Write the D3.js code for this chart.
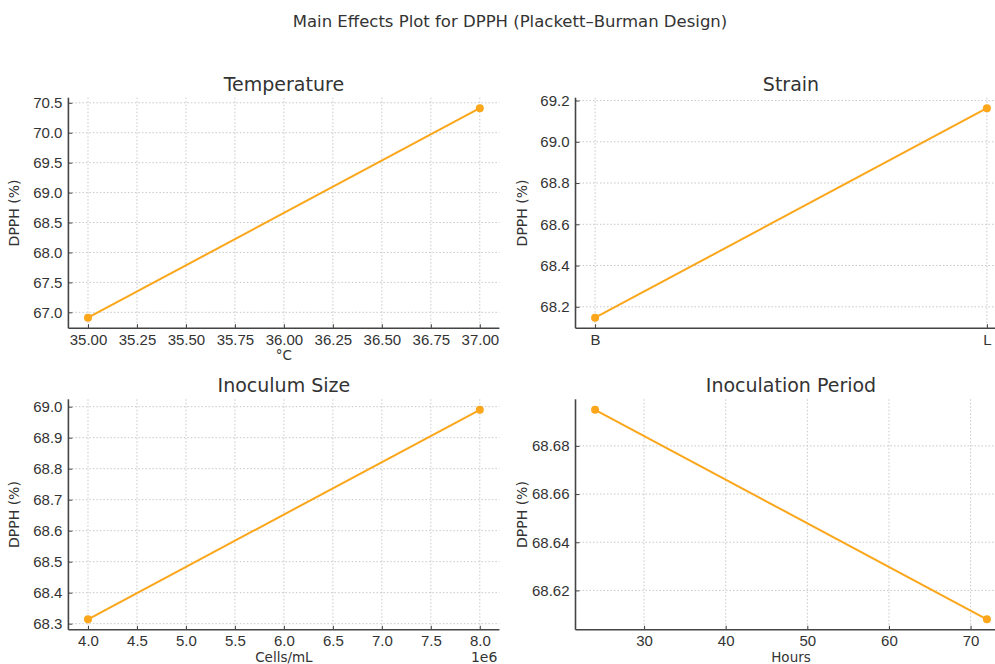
<!DOCTYPE html>
<html>
<head>
<meta charset="utf-8">
<script src="https://cdn.jsdelivr.net/npm/d3@7"></script>
<style>
  body { margin: 0; background: #fff; }
  svg { font-family: "DejaVu Sans", sans-serif; display: block; }
  .grid line { stroke: #c8c8c8; stroke-dasharray: 1.5 2; stroke-width: 1; }
  .axis path { stroke: #444; stroke-width: 1.6; }
  .axis line { stroke: #444; stroke-width: 1; }
  .axis text { fill: #333; font-size: 15px; }
</style>
</head>
<body>
<div id="wrapper"></div>
<script>
// 1. Data
const chartTitle = "Main Effects Plot for DPPH (Plackett–Burman Design)"

const temperatureLevels = [35, 37]
const temperatureDpph = [66.91, 70.41]
const temperatureTicks = [35, 35.25, 35.5, 35.75, 36, 36.25, 36.5, 36.75, 37]
const temperatureYTicks = [67.0, 67.5, 68.0, 68.5, 69.0, 69.5, 70.0, 70.5]

const strainLevels = ["B", "L"]
const strainDpph = [68.147, 69.163]
const strainYTicks = [68.2, 68.4, 68.6, 68.8, 69.0, 69.2]

const inoculumLevels = [4e6, 8e6]
const inoculumDpph = [68.314, 68.990]
const inoculumTicks = [4e6, 4.5e6, 5e6, 5.5e6, 6e6, 6.5e6, 7e6, 7.5e6, 8e6]
const inoculumYTicks = [68.3, 68.4, 68.5, 68.6, 68.7, 68.8, 68.9, 69.0]

const periodLevels = [24, 72]
const periodDpph = [68.695, 68.608]
const periodTicks = [30, 40, 50, 60, 70]
const periodYTicks = [68.62, 68.64, 68.66, 68.68]

// 2. Dimensions
const width = 995
const height = 664
const panelW = 431
const panelH = 230.5

const panels = [
  { title: "Temperature", xLabel: "°C", x: temperatureLevels, y: temperatureDpph,
    xTicks: temperatureTicks, yTicks: temperatureYTicks, xFmt: d3.format(".2f"), yFmt: d3.format(".1f"),
    left: 68.4, top: 97.7 },
  { title: "Strain", xLabel: "", x: strainLevels, y: strainDpph, categorical: true,
    yTicks: strainYTicks, yFmt: d3.format(".1f"),
    left: 575.5, top: 97.7 },
  { title: "Inoculum Size", xLabel: "Cells/mL", x: inoculumLevels, y: inoculumDpph,
    xTicks: inoculumTicks, yTicks: inoculumYTicks, xFmt: d => d3.format(".1f")(d / 1e6), yFmt: d3.format(".1f"),
    offsetText: "1e6", left: 68.4, top: 399.3 },
  { title: "Inoculation Period", xLabel: "Hours", x: periodLevels, y: periodDpph,
    xTicks: periodTicks, yTicks: periodYTicks, xFmt: d3.format("d"), yFmt: d3.format(".2f"),
    left: 575.5, top: 399.3 },
]

// 3. Canvas
const wrapper = d3.select("#wrapper")
  .append("svg")
    .attr("width", width)
    .attr("height", height)

wrapper.append("text")
    .attr("x", 510)
    .attr("y", 27)
    .attr("text-anchor", "middle")
    .style("font-size", "16.5px")
    .style("fill", "#333")
    .text(chartTitle)

const padded = ([a, b]) => {
  const m = (b - a) * 0.05
  return [a - m, b + m]
}

panels.forEach(p => {
  const bounds = wrapper.append("g")
      .attr("transform", `translate(${p.left}, ${p.top})`)

  // 4. Scales
  const idx = p.x.map((d, i) => i)
  const xScale = p.categorical
    ? d3.scaleLinear().domain(padded([0, p.x.length - 1])).range([0, panelW])
    : d3.scaleLinear().domain(padded(d3.extent(p.x))).range([0, panelW])
  const xPos = (d, i) => p.categorical ? xScale(i) : xScale(d)
  const xTickVals = p.categorical ? idx : p.xTicks
  const xTickFmt = p.categorical ? (i => p.x[i]) : p.xFmt

  const yScale = d3.scaleLinear()
    .domain(padded(d3.extent(p.y)))
    .range([panelH, 0])

  // grid
  const grid = bounds.append("g").attr("class", "grid")
  grid.selectAll(".gx")
    .data(xTickVals)
    .join("line")
      .attr("x1", d => xScale(d))
      .attr("x2", d => xScale(d))
      .attr("y1", 0)
      .attr("y2", panelH)
  grid.selectAll(".gy")
    .data(p.yTicks)
    .join("line")
      .attr("class", "gy")
      .attr("x1", 0)
      .attr("x2", panelW)
      .attr("y1", d => yScale(d))
      .attr("y2", d => yScale(d))

  // 5. Data
  const points = p.y.map((v, i) => [xPos(p.x[i], i), yScale(v)])
  bounds.append("path")
      .attr("d", d3.line()(points))
      .attr("fill", "none")
      .attr("stroke", "#fba61b")
      .attr("stroke-width", 2)
  bounds.selectAll(".dot")
    .data(points)
    .join("circle")
      .attr("cx", d => d[0])
      .attr("cy", d => d[1])
      .attr("r", 4)
      .attr("fill", "#fba61b")

  // 6. Peripherals
  const xAxis = bounds.append("g")
      .attr("class", "axis")
      .attr("transform", `translate(0, ${panelH})`)
      .call(d3.axisBottom(xScale)
        .tickValues(xTickVals)
        .tickFormat(xTickFmt)
        .tickSizeInner(-4)
        .tickSizeOuter(0)
        .tickPadding(6))
  xAxis.select(".domain").attr("d", `M0,0H${panelW}`)

  const yAxis = bounds.append("g")
      .attr("class", "axis")
      .call(d3.axisLeft(yScale)
        .tickValues(p.yTicks)
        .tickFormat(p.yFmt)
        .tickSizeInner(-4)
        .tickSizeOuter(0)
        .tickPadding(6))
  yAxis.select(".domain").attr("d", `M0,0V${panelH}`)

  bounds.append("text")
      .attr("x", panelW / 2)
      .attr("y", -7)
      .attr("text-anchor", "middle")
      .style("font-size", "19px")
      .style("fill", "#333")
      .text(p.title)

  bounds.append("text")
      .attr("transform", `translate(${-49}, ${panelH / 2}) rotate(-90)`)
      .attr("text-anchor", "middle")
      .style("font-size", "14px")
      .style("fill", "#333")
      .text("DPPH (%)")

  if (p.xLabel) {
    bounds.append("text")
        .attr("x", panelW / 2)
        .attr("y", panelH + 32)
        .attr("text-anchor", "middle")
        .style("font-size", "13.5px")
        .style("fill", "#333")
        .text(p.xLabel)
  }

  if (p.offsetText) {
    bounds.append("text")
        .attr("x", panelW - 2)
        .attr("y", panelH + 32)
        .attr("text-anchor", "end")
        .style("font-size", "14px")
        .style("fill", "#333")
        .text(p.offsetText)
  }
})
</script>
</body>
</html>
